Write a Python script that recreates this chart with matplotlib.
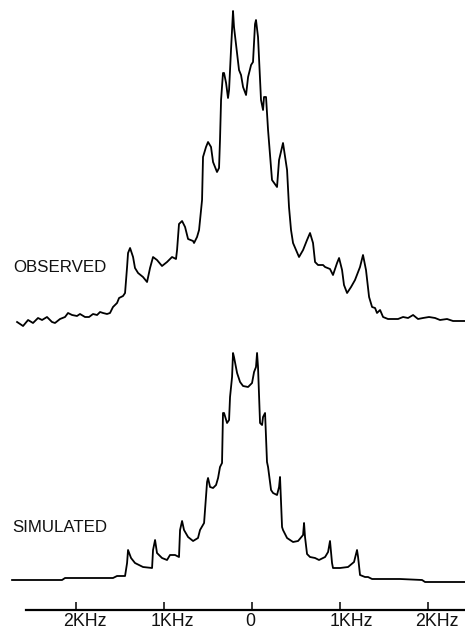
import matplotlib.pyplot as plt

plt.rcParams["font.family"] = ["Liberation Sans", "DejaVu Sans"]

# frequency offset (kHz) and intensity (a.u., above own baseline)
obs_khz = [-2.670, -2.602, -2.545, -2.489, -2.432, -2.386, -2.330, -2.273, -2.239, -2.182,
           -2.125, -2.091, -2.045, -1.989, -1.955, -1.898, -1.852, -1.807, -1.761, -1.727,
           -1.693, -1.648, -1.614, -1.580, -1.534, -1.511, -1.466, -1.443, -1.420, -1.409,
           -1.386, -1.352, -1.330, -1.295, -1.239, -1.193, -1.159, -1.125, -1.080, -1.023,
           -0.966, -0.909, -0.864, -0.852, -0.830, -0.795, -0.761, -0.727, -0.670, -0.659,
           -0.625, -0.602, -0.568, -0.557, -0.523, -0.500, -0.466, -0.443, -0.398, -0.375,
           -0.364, -0.352, -0.330, -0.318, -0.295, -0.273, -0.261, -0.239, -0.216, -0.205,
           -0.170, -0.148, -0.125, -0.102, -0.068, -0.045, -0.011, 0.011, 0.034, 0.045,
           0.068, 0.080, 0.102, 0.125, 0.136, 0.159, 0.182, 0.227, 0.284, 0.307,
           0.352, 0.398, 0.420, 0.443, 0.466, 0.534, 0.580, 0.625, 0.659, 0.693,
           0.716, 0.750, 0.807, 0.830, 0.886, 0.920, 0.966, 0.989, 1.023, 1.045,
           1.080, 1.125, 1.170, 1.227, 1.261, 1.295, 1.330, 1.364, 1.398, 1.420,
           1.455, 1.489, 1.545, 1.602, 1.659, 1.716, 1.773, 1.830, 1.886, 1.943,
           2.011, 2.080, 2.136, 2.216, 2.284, 2.364, 2.420]
obs_int = [0, -4, 2, -1, 4, 2, 5, 0, -1, 3,
           5, 9, 7, 6, 8, 5, 5, 8, 7, 10,
           9, 8, 9, 15, 19, 24, 26, 29, 55, 69,
           74, 65, 54, 49, 45, 40, 54, 65, 62, 56,
           60, 65, 63, 72, 98, 101, 95, 83, 81, 79,
           85, 92, 122, 165, 175, 180, 175, 160, 150, 154,
           182, 222, 249, 249, 239, 224, 232, 272, 311, 295,
           269, 252, 247, 235, 227, 245, 257, 260, 298, 302,
           285, 262, 222, 212, 225, 225, 192, 142, 135, 162,
           179, 152, 115, 92, 79, 65, 72, 82, 89, 79,
           60, 57, 57, 55, 53, 47, 59, 64, 52, 37,
           29, 35, 42, 55, 67, 52, 25, 15, 14, 9,
           12, 5, 3, 3, 3, 5, 4, 7, 3, 4,
           5, 4, 2, 3, 1, 1, 1]

sim_khz = [-2.727, -2.159, -2.125, -1.580, -1.534, -1.443, -1.420, -1.409, -1.375, -1.330,
           -1.239, -1.136, -1.125, -1.102, -1.080, -1.023, -0.966, -0.932, -0.875, -0.830,
           -0.818, -0.795, -0.773, -0.727, -0.670, -0.614, -0.591, -0.545, -0.511, -0.500,
           -0.477, -0.443, -0.409, -0.386, -0.364, -0.341, -0.330, -0.318, -0.284, -0.261,
           -0.250, -0.227, -0.216, -0.205, -0.170, -0.136, -0.102, -0.045, 0.000, 0.023,
           0.045, 0.057, 0.068, 0.091, 0.114, 0.125, 0.148, 0.170, 0.182, 0.216,
           0.239, 0.284, 0.307, 0.318, 0.341, 0.352, 0.398, 0.466, 0.523, 0.580,
           0.591, 0.602, 0.625, 0.659, 0.716, 0.761, 0.830, 0.864, 0.886, 0.909,
           0.920, 1.000, 1.091, 1.159, 1.193, 1.205, 1.227, 1.284, 1.318, 1.364,
           1.682, 1.932, 1.966, 2.420]
sim_int = [0, 0, 2, 2, 4, 4, 17, 30, 22, 17,
           13, 12, 30, 40, 27, 22, 20, 25, 25, 23,
           50, 59, 50, 43, 39, 42, 50, 57, 98, 102,
           93, 92, 95, 102, 113, 117, 167, 167, 157, 160,
           183, 203, 227, 223, 207, 198, 194, 193, 197, 208,
           213, 227, 213, 157, 155, 163, 167, 118, 113, 90,
           87, 85, 93, 103, 53, 50, 42, 38, 39, 45,
           57, 43, 26, 23, 22, 20, 23, 28, 39, 17,
           12, 12, 13, 18, 30, 23, 5, 3, 3, 1,
           1, 0, -2, -2]

tick_khz = [-2, -1, 0, 1, 2]
tick_labels = ["2KHz", "1KHz", "0", "1KHz", "2KHz"]
tick_shift = [9, 8, -2, 11, 9]

obs_base = 309
sim_base = 51
axis_y = 21

fig = plt.figure(figsize=(4.65, 6.31), dpi=100)
ax = fig.add_axes([0, 0, 1, 1])
ax.set_xlim(-2.864, 2.420)
ax.set_ylim(0, 631)

ax.plot(obs_khz, [v + obs_base for v in obs_int], color="black", lw=1.3)
ax.plot(sim_khz, [v + sim_base for v in sim_int], color="black", lw=1.3)

ax.text(-2.716, 364, "OBSERVED", fontsize=12.2, ha="left", va="center", color="#111111")
ax.text(-2.727, 104, "SIMULATED", fontsize=12.2, ha="left", va="center", color="#111111")

for s in ["top", "left", "right"]:
    ax.spines[s].set_visible(False)
ax.spines["bottom"].set_position(("data", axis_y))
ax.spines["bottom"].set_bounds(-2.568, 2.420)
ax.spines["bottom"].set_linewidth(1.6)
ax.set_yticks([])
ax.set_xticks(tick_khz)
ax.set_xticklabels([])
ax.tick_params(axis="x", direction="in", length=6, width=1.1)

for x, lab, dx in zip(tick_khz, tick_labels, tick_shift):
    ax.annotate(lab, xy=(x, axis_y), xytext=(dx, -12), textcoords="offset pixels",
                ha="center", va="center", fontsize=12.8, color="#111111")

fig.savefig("out.png", dpi=100)
